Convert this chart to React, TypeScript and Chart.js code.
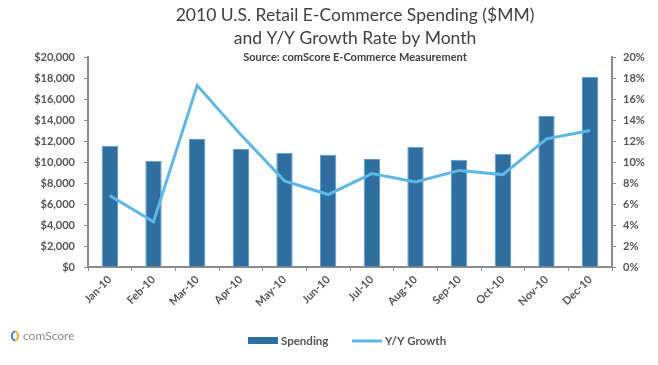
import { useEffect, useRef } from 'react';
import { Chart, registerables } from 'chart.js';

Chart.register(...registerables);

const months = ['Jan-10', 'Feb-10', 'Mar-10', 'Apr-10', 'May-10', 'Jun-10', 'Jul-10', 'Aug-10', 'Sep-10', 'Oct-10', 'Nov-10', 'Dec-10'];
const spending = [11550, 10120, 12190, 11240, 10890, 10700, 10290, 11460, 10220, 10790, 14380, 18130];
const growth = [6.8, 4.3, 17.3, 12.6, 8.2, 6.9, 8.9, 8.1, 9.2, 8.8, 12.2, 13.0];
const titleLines = ['2010 U.S. Retail E-Commerce Spending ($MM)', 'and Y/Y Growth Rate by Month'];
const subtitleText = 'Source: comScore E-Commerce Measurement';
const seriesNames = ['Spending', 'Y/Y Growth'];
const brandText = 'comScore';

const BAR = '#2f6fa0';
const BAR_EDGE = '#5f9fd4';
const LINE = '#5cb8e8';
const AXIS = '#8c8c8c';
const TEXT = '#404040';
const TICK_TEXT = '#555555';
const FONT = 'Lato, "Open Sans", sans-serif';

const decor = {
  id: 'decor',
  afterDraw(chart: any) {
    const ctx = chart.ctx as CanvasRenderingContext2D;
    const ca = chart.chartArea;
    const cx = (ca.left + ca.right) / 2 + 5;
    ctx.save();
    ctx.fillStyle = TEXT;
    ctx.textAlign = 'center';
    ctx.textBaseline = 'alphabetic';
    ctx.font = `17.5px ${FONT}`;
    ctx.fillText(titleLines[0], cx, 21);
    ctx.fillText(titleLines[1], cx, 44);
    ctx.font = `bold 11px ${FONT}`;
    ctx.fillText(subtitleText, cx, 61);

    // legend
    const ly = 341;
    const lx = cx - 107;
    ctx.fillStyle = BAR;
    ctx.fillRect(lx, ly - 4, 30, 7);
    ctx.fillStyle = TICK_TEXT;
    ctx.textAlign = 'left';
    ctx.textBaseline = 'middle';
    ctx.font = `bold 11.5px ${FONT}`;
    ctx.fillText(seriesNames[0], lx + 33, ly);
    const l2 = lx + 104;
    ctx.strokeStyle = LINE;
    ctx.lineWidth = 3;
    ctx.beginPath();
    ctx.moveTo(l2, ly);
    ctx.lineTo(l2 + 30, ly);
    ctx.stroke();
    ctx.fillText(seriesNames[1], l2 + 33, ly);

    // brand mark
    const ix = 15, iy = 336;
    ctx.lineWidth = 2.2;
    ctx.strokeStyle = '#3d8fd1';
    ctx.beginPath();
    ctx.ellipse(ix, iy, 3, 4.5, 0, Math.PI * 0.5, Math.PI * 1.5);
    ctx.stroke();
    ctx.strokeStyle = '#f2b233';
    ctx.beginPath();
    ctx.ellipse(ix, iy, 3, 4.5, 0, Math.PI * 1.5, Math.PI * 2.5);
    ctx.stroke();
    ctx.fillStyle = '#8a8a8a';
    ctx.font = `12px ${FONT}`;
    ctx.fillText(brandText, 23, iy);
    ctx.restore();
  },
};

export default function App() {
  const ref = useRef<HTMLCanvasElement>(null);
  useEffect(() => {
    document.body.style.margin = '0';
    const canvas = ref.current!;
    const tickFont = { family: FONT, size: 11, weight: 'bold' as const };
    const chart = new Chart(canvas, {
      type: 'bar',
      data: {
        labels: months,
        datasets: [
          {
            type: 'line',
            label: seriesNames[1],
            data: growth,
            yAxisID: 'y1',
            borderColor: LINE,
            backgroundColor: LINE,
            borderWidth: 3,
            pointRadius: 0,
            tension: 0,
            order: 0,
          } as any,
          {
            type: 'bar',
            label: seriesNames[0],
            data: spending,
            yAxisID: 'y',
            backgroundColor: BAR,
            borderColor: BAR_EDGE,
            borderWidth: 1,
            categoryPercentage: 1,
            barPercentage: 0.375,
            order: 1,
          },
        ],
      },
      options: {
        animation: false,
        responsive: false,
        maintainAspectRatio: false,
        layout: { padding: { top: 57, left: 0, right: 0, bottom: 0 } },
        plugins: { legend: { display: false }, title: { display: false }, tooltip: { enabled: false } },
        scales: {
          x: {
            grid: { display: true, drawOnChartArea: false, drawTicks: true, tickLength: 4, color: AXIS, offset: true },
            border: { display: true, color: AXIS, width: 2 },
            ticks: { font: tickFont, color: TICK_TEXT, minRotation: 45, maxRotation: 45, padding: 2, autoSkip: false },
            afterFit: (s: any) => { s.height = 98; },
          },
          y: {
            position: 'left',
            min: 0,
            max: 20000,
            grid: { display: true, drawOnChartArea: false, drawTicks: true, tickLength: 4, color: AXIS },
            border: { display: true, color: AXIS, width: 2 },
            ticks: {
              stepSize: 2000,
              font: tickFont,
              color: TICK_TEXT,
              padding: 9,
              callback: (v: any) => '$' + Number(v).toLocaleString('en-US'),
            },
            afterFit: (s: any) => { s.width = 88; },
          },
          y1: {
            position: 'right',
            min: 0,
            max: 20,
            grid: { display: true, drawOnChartArea: false, drawTicks: true, tickLength: 4, color: AXIS },
            border: { display: true, color: AXIS, width: 2 },
            ticks: {
              stepSize: 2,
              font: tickFont,
              color: TICK_TEXT,
              padding: 7,
              callback: (v: any) => v + '%',
            },
            afterFit: (s: any) => { s.width = 46; },
          },
        },
      },
      plugins: [decor],
    });
    return () => chart.destroy();
  }, []);
  return (
    <div style={{ width: 658, height: 365 }}>
      <canvas ref={ref} width={658} height={365} style={{ display: 'block' }} />
    </div>
  );
}
